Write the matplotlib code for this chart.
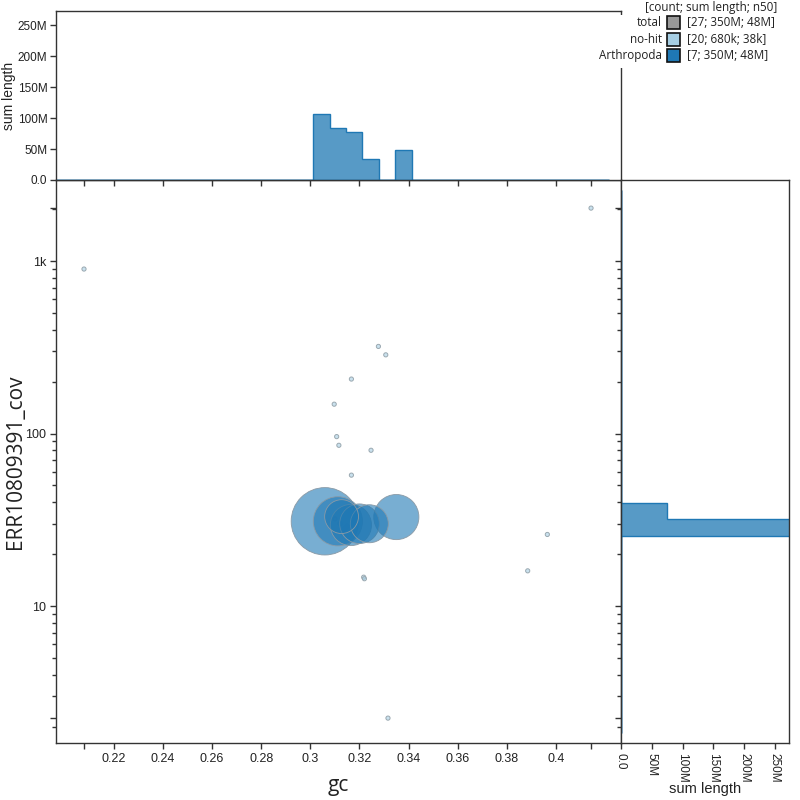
import numpy as np
import matplotlib
matplotlib.use("Agg")
import matplotlib.pyplot as plt
from matplotlib.patches import Rectangle
from matplotlib.ticker import FixedLocator, FuncFormatter, NullFormatter, LogLocator

# no-hit contigs
nohit_gc = [0.2078, 0.4143, 0.3277, 0.3307, 0.3167, 0.3097, 0.3107, 0.3116, 0.3247, 0.3167,
            0.3965, 0.3885, 0.3217, 0.3220, 0.3316, 0.3120, 0.3150, 0.3180, 0.3100, 0.3140]
nohit_cov = [899, 2028, 320, 286, 207, 148, 96, 85.5, 80, 57.4,
             26, 16, 14.7, 14.4, 2.24, 30, 29, 31, 32, 28]
nohit_len = [38e3, 30e3, 35e3, 42e3, 33e3, 28e3, 45e3, 36e3, 40e3, 31e3,
             48e3, 26e3, 34e3, 29e3, 25e3, 38e3, 33e3, 27e3, 32e3, 30e3]

# Arthropoda contigs
arth_gc = [0.3059, 0.3112, 0.3127, 0.3165, 0.3200, 0.3240, 0.3350]
arth_cov = [31.0, 31.0, 33.0, 29.5, 30.0, 30.0, 32.8]
arth_len = [107e6, 57e6, 27e6, 40e6, 37e6, 34e6, 48e6]

legend_names = ["total", "no-hit", "Arthropoda"]
legend_stats = ["[27; 350M; 48M]", "[20; 680k; 38k]", "[7; 350M; 48M]"]
legend_colors = ["#999999", "#a6cee3", "#1f78b4"]

gc_ticks = [0.22, 0.24, 0.26, 0.28, 0.30, 0.32, 0.34, 0.36, 0.38, 0.40]
gc_tick_labels = ["0.22", "0.24", "0.26", "0.28", "0.3", "0.32", "0.34", "0.36", "0.38", "0.4"]
cov_ticks = [10, 100, 1000]
cov_tick_labels = ["10", "100", "1k"]
len_ticks = [0, 50e6, 100e6, 150e6, 200e6, 250e6]

xlim = (0.1966, 0.4265)
ylim = (1.607, 2951)
len_max = 273e6
gc_edges = np.arange(0.1939, 0.4266, 0.0067)
cov_edges = 10 ** np.arange(0.262, 3.48, 0.0955)

TICK_FONT = "Liberation Sans"
AX = "#333333"


def len_fmt(v, pos=None):
    if v == 0:
        return "0.0"
    return f"{v / 1e6:g}M"


def sizes(lengths):
    # area proportional to length
    return np.maximum(22.0 * np.array(lengths) / 1e6, 9)


fig = plt.figure(figsize=(8, 8), dpi=100)
W = 800.0
main = fig.add_axes([56.5 / W, 57 / W, 564.5 / W, 563 / W])
top = fig.add_axes([56.5 / W, 620 / W, 564.5 / W, 169 / W])
right = fig.add_axes([621 / W, 57 / W, 168 / W, 563 / W])

# scatter
main.scatter(nohit_gc, nohit_cov, s=sizes(nohit_len), facecolor=(166/255, 206/255, 227/255, 0.6),
             edgecolor="#9aa8b0", linewidth=0.7, zorder=2)
order = np.argsort(arth_len)[::-1]
main.scatter(np.array(arth_gc)[order], np.array(arth_cov)[order], s=sizes(np.array(arth_len)[order]),
             facecolor=(31/255, 120/255, 180/255, 0.6), edgecolor="#8a9aa6", linewidth=0.6, zorder=3)
main.set_yscale("log")
main.set_xlim(*xlim)
main.set_ylim(*ylim)

# histograms
top.hist(nohit_gc, bins=gc_edges, weights=nohit_len, histtype="stepfilled",
         facecolor=(166/255, 206/255, 227/255, 0.75), edgecolor="#a6cee3", linewidth=1)
top.hist(arth_gc, bins=gc_edges, weights=arth_len, histtype="stepfilled",
         facecolor=(31/255, 120/255, 180/255, 0.75), edgecolor="#1f78b4", linewidth=1)
top.set_xlim(*xlim)
top.set_ylim(0, len_max)

right.hist(nohit_cov, bins=cov_edges, weights=nohit_len, histtype="stepfilled", orientation="horizontal",
           facecolor=(166/255, 206/255, 227/255, 0.75), edgecolor="#a6cee3", linewidth=1)
right.hist(arth_cov, bins=cov_edges, weights=arth_len, histtype="stepfilled", orientation="horizontal",
           facecolor=(31/255, 120/255, 180/255, 0.75), edgecolor="#1f78b4", linewidth=1)
right.set_yscale("log")
right.set_ylim(*ylim)
right.set_xlim(0, len_max)

# ticks
all_gc = nohit_gc + arth_gc
all_cov = nohit_cov + arth_cov
gc_major = [min(all_gc)] + gc_ticks + [max(all_gc)]
gc_major_labels = [""] + gc_tick_labels + [""]
cov_major = [min(all_cov)] + cov_ticks + [max(all_cov)]
cov_major_labels = [""] + cov_tick_labels + [""]

for ax in (main, top, right):
    for sp in ax.spines.values():
        sp.set_color(AX)
        sp.set_linewidth(1)
    ax.tick_params(which="both", direction="out", color=AX, width=1, labelsize=9,
                   labelcolor="#222222", top=False, right=False)
    ax.tick_params(which="major", length=4)
    ax.tick_params(which="minor", length=3)

for ax in (main, top):
    ax.xaxis.set_major_locator(FixedLocator(gc_major))
    ax.xaxis.set_minor_locator(FixedLocator([]))
for ax in (main, right):
    ax.yaxis.set_major_locator(FixedLocator(cov_major))
    ax.yaxis.set_minor_locator(LogLocator(base=10, subs=np.arange(2, 10)))
    ax.yaxis.set_minor_formatter(NullFormatter())

main.set_xticklabels(gc_major_labels, fontfamily=TICK_FONT)
main.set_yticklabels(cov_major_labels, fontfamily=TICK_FONT)
top.tick_params(axis="x", labelbottom=False)
top.tick_params(axis="y", labelsize=8.5, pad=2.5)
right.tick_params(axis="y", labelleft=False)
right.tick_params(axis="x", labelsize=8.5)

top.yaxis.set_major_locator(FixedLocator(len_ticks))
top.yaxis.set_major_formatter(FuncFormatter(len_fmt))
right.xaxis.set_major_locator(FixedLocator(len_ticks))
right.xaxis.set_major_formatter(FuncFormatter(len_fmt))
for lab in top.get_yticklabels():
    lab.set_fontfamily(TICK_FONT)
for lab in right.get_xticklabels():
    lab.set_fontfamily(TICK_FONT)
    lab.set_rotation(-90)
    lab.set_va("top")

# axis labels
main.set_xlabel("gc", fontsize=15, fontfamily="Open Sans", color="#222222", va="center")
main.xaxis.set_label_coords(0.5, (743 - 785) / 563)
main.set_ylabel("ERR10809391_cov", fontsize=15, fontfamily="Open Sans", color="#222222", va="center")
main.yaxis.set_label_coords((16 - 56.5) / 564.5, 0.5)
top.set_ylabel("sum length", fontsize=10, fontfamily=TICK_FONT, color="#222222", va="center")
top.yaxis.set_label_coords((9 - 56.5) / 564.5, 0.5)
right.set_xlabel("sum length", fontsize=10.5, fontfamily=TICK_FONT, color="#222222", va="center")
right.xaxis.set_label_coords(0.5, (743 - 789) / 563)

# legend
fig.patches.append(Rectangle((598 / W, 1 - 68 / W), 202 / W, 53 / W, transform=fig.transFigure,
                             facecolor="white", edgecolor="none", zorder=1))
fig.text(711 / W, 1 - 8 / W, "[count; sum length; n50]", ha="center", va="center",
         fontsize=8.4, fontfamily="Open Sans", color="#222222")
row_y = [22.7, 39.3, 55.5]
for name, stat, col, y in zip(legend_names, legend_stats, legend_colors, row_y):
    fig.text(662 / W, 1 - y / W, name, ha="right", va="center", fontsize=8.4,
             fontfamily="Open Sans", color="#222222")
    fig.patches.append(Rectangle((667 / W, 1 - (y + 6.5) / W), 13 / W, 13 / W,
                                 transform=fig.transFigure, facecolor=col,
                                 edgecolor="#111111", linewidth=1.2, zorder=2))
    fig.text(687 / W, 1 - y / W, stat, ha="left", va="center", fontsize=8.4,
             fontfamily="Open Sans", color="#222222")

fig.savefig("out.png", dpi=100)
